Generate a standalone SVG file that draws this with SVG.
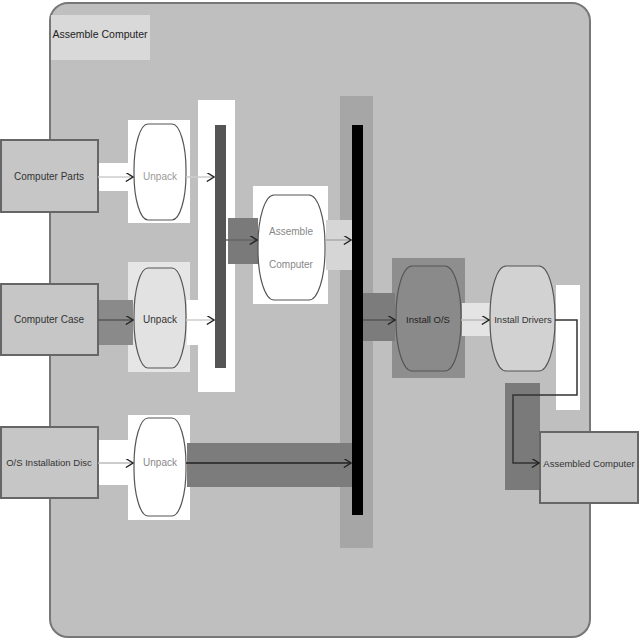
<svg xmlns="http://www.w3.org/2000/svg" width="640" height="640" viewBox="0 0 640 640">
<defs>
<style>
.lbl{font-family:"Liberation Sans",Arial,sans-serif;font-size:10px;fill:#333;text-anchor:middle;dominant-baseline:middle}
.sm{font-size:9.5px}
.obj{fill:#c6c6c6;stroke:#666;stroke-width:2}
.act{stroke:#555;stroke-width:1.2}
.edge{fill:none;stroke-width:1.5}
</style>
<marker id="arr" viewBox="0 0 10 10" refX="9" refY="5" markerWidth="9" markerHeight="9" orient="auto" markerUnits="userSpaceOnUse">
<path d="M1,0 L9,5 L1,10" fill="none" stroke="#222" stroke-width="1.5"/>
</marker>
</defs>
<rect width="640" height="640" fill="#fff"/>
<g id="partition">
<rect x="50" y="3" width="540" height="634" rx="18" ry="18" fill="#bfbfbf" stroke="#777" stroke-width="2"/>
<rect x="51" y="15" width="99" height="45" fill="#d9d9d9"/>
<text x="100" y="35" class="lbl" style="font-size:10.5px;fill:#222">Assemble Computer</text>
</g>
<g id="highlights">
<rect x="198" y="100" width="37" height="292" fill="#fff"/>
<rect x="128" y="120" width="62" height="103" fill="#fff"/>
<rect x="128" y="262" width="62" height="110" fill="#e6e6e6"/>
<rect x="128" y="415" width="62" height="105" fill="#fff"/>
<rect x="253" y="186" width="75" height="118" fill="#fff"/>
<rect x="340" y="96" width="33" height="452" fill="#a6a6a6"/>
<rect x="392" y="258" width="73" height="120" fill="#8e8e8e"/>
<rect x="98" y="163" width="32" height="28" fill="#fff"/>
<rect x="98" y="300" width="35" height="45" fill="#8a8a8a"/>
<rect x="98" y="440" width="32" height="45" fill="#fff"/>
<rect x="187" y="300" width="23" height="45" fill="#fff"/>
<rect x="228" y="218" width="30" height="46" fill="#7a7a7a"/>
<rect x="326" y="220" width="26" height="50" fill="#d6d6d6"/>
<rect x="187" y="443" width="165" height="44" fill="#7c7c7c"/>
<rect x="362" y="293" width="33" height="48" fill="#7c7c7c"/>
<rect x="462" y="303" width="28" height="33" fill="#e4e4e4"/>
<rect x="556" y="285" width="24" height="125" fill="#fff"/>
<rect x="505" y="383" width="35" height="107" fill="#7a7a7a"/>
</g>
<g id="n-computer-parts"><rect class="obj" x="1" y="140" width="97" height="72"/><text x="49" y="177" class="lbl">Computer Parts</text></g>
<g id="n-computer-case"><rect class="obj" x="1" y="284" width="97" height="71"/><text x="49" y="320" class="lbl">Computer Case</text></g>
<g id="n-os-disc"><rect class="obj" x="1" y="427" width="97" height="71"/><text x="49" y="463" class="lbl sm">O/S Installation Disc</text></g>
<g id="n-assembled"><rect class="obj" x="540" y="432" width="98" height="71"/><text x="589" y="464" class="lbl sm">Assembled Computer</text></g>
<g id="n-unpack1"><rect class="act" x="134" y="124" width="52" height="96" rx="14" ry="46" fill="#fff"/><text x="160" y="177" class="lbl" style="fill:#999">Unpack</text></g>
<g id="n-unpack2"><rect class="act" x="134" y="268" width="52" height="100" rx="14" ry="48" fill="#e2e2e2"/><text x="160" y="320" class="lbl">Unpack</text></g>
<g id="n-unpack3"><rect class="act" x="134" y="418" width="52" height="98" rx="14" ry="47" fill="#fff"/><text x="160" y="463" class="lbl" style="fill:#888">Unpack</text></g>
<g id="n-fork"><rect x="215" y="125" width="11" height="243" fill="#555"/></g>
<g id="n-assemble"><rect class="act" x="258" y="195" width="67" height="105" rx="16" ry="50" fill="#fff"/><text x="291" y="232" class="lbl" style="fill:#888">Assemble</text><text x="291" y="265" class="lbl" style="fill:#888">Computer</text></g>
<g id="n-join"><rect x="352" y="125" width="11" height="390" fill="#000"/></g>
<g id="n-install-os"><rect class="act" x="396" y="266" width="65" height="105" rx="16" ry="50" fill="#8a8a8a"/><text x="428" y="320" class="lbl sm" style="fill:#222">Install O/S</text></g>
<g id="n-install-drivers"><rect class="act" x="490" y="266" width="65" height="105" rx="16" ry="50" fill="#d2d2d2"/><text x="523" y="320" class="lbl sm">Install Drivers</text></g>
<g id="connectors">
<path class="edge" d="M98,177 H133" stroke="#ccc" marker-end="url(#arr)"/>
<path class="edge" d="M186,177 H214" stroke="#ccc" marker-end="url(#arr)"/>
<path class="edge" d="M98,320 H133" stroke="#555" marker-end="url(#arr)"/>
<path class="edge" d="M186,320 H214" stroke="#ccc" marker-end="url(#arr)"/>
<path class="edge" d="M226,240 H257" stroke="#666" marker-end="url(#arr)"/>
<path class="edge" d="M325,240 H351" stroke="#aaa" marker-end="url(#arr)"/>
<path class="edge" d="M98,463 H133" stroke="#bbb" marker-end="url(#arr)"/>
<path class="edge" d="M186,463 H351" stroke="#222" stroke-width="3" marker-end="url(#arr)"/>
<path class="edge" d="M363,320 H395" stroke="#555" marker-end="url(#arr)"/>
<path class="edge" d="M461,320 H489" stroke="#bbb" marker-end="url(#arr)"/>
<path class="edge" d="M555,320 H577 V395 H513 V463 H539" stroke="#333" stroke-width="2" marker-end="url(#arr)"/>
</g>
</svg>
